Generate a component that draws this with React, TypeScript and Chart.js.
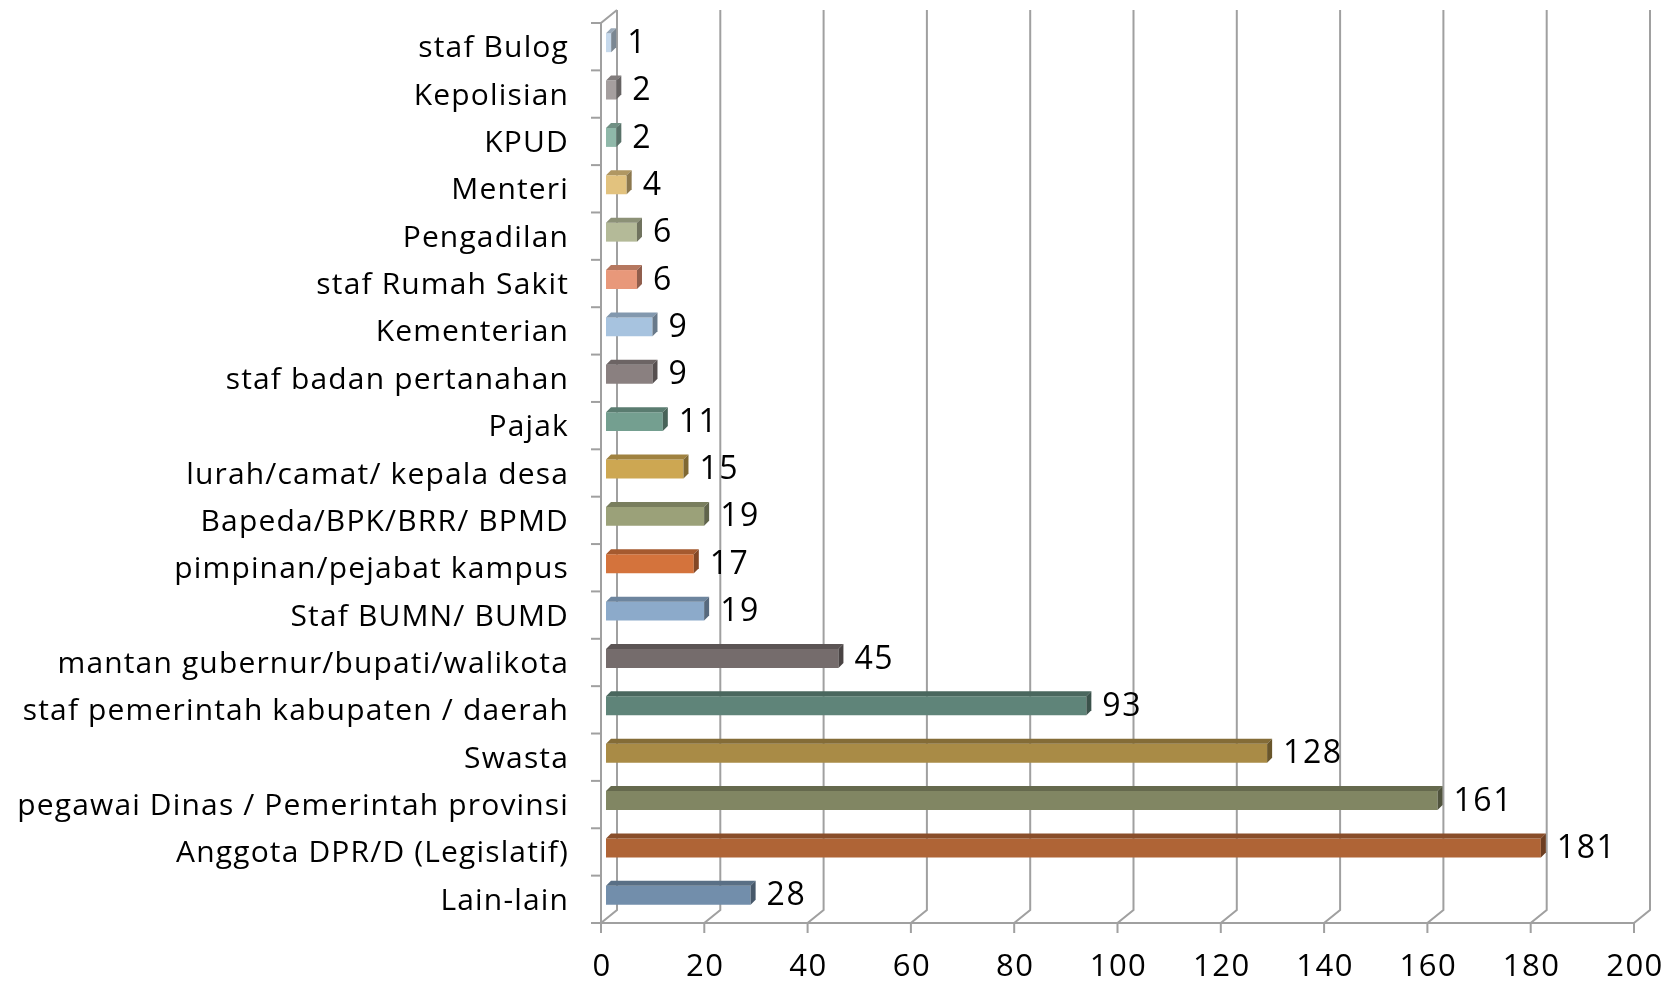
import React, { useEffect, useRef } from "react";
import { Chart, registerables } from "chart.js";

Chart.register(...registerables);

const categories = [
  "staf Bulog",
  "Kepolisian",
  "KPUD",
  "Menteri",
  "Pengadilan",
  "staf Rumah Sakit",
  "Kementerian",
  "staf badan pertanahan",
  "Pajak",
  "lurah/camat/ kepala desa",
  "Bapeda/BPK/BRR/ BPMD",
  "pimpinan/pejabat kampus",
  "Staf BUMN/ BUMD",
  "mantan gubernur/bupati/walikota",
  "staf pemerintah kabupaten / daerah",
  "Swasta",
  "pegawai Dinas / Pemerintah provinsi",
  "Anggota DPR/D (Legislatif)",
  "Lain-lain",
];

const values = [1, 2, 2, 4, 6, 6, 9, 9, 11, 15, 19, 17, 19, 45, 93, 128, 161, 181, 28];

const barColors = [
  "#C6D9EC",
  "#A59F9F",
  "#8FB8A9",
  "#E2C27E",
  "#B4BA98",
  "#E8987A",
  "#A7C3DF",
  "#8A8080",
  "#749F90",
  "#CDA752",
  "#9BA179",
  "#D4733C",
  "#8CAACA",
  "#756C6C",
  "#5F8479",
  "#A98B46",
  "#818663",
  "#AF6436",
  "#728EAB",
];

const xMin = 0;
const xMax = 200;
const xStep = 20;

const FONT = "'Open Sans', 'DejaVu Sans', sans-serif";

function shade(hex: string, f: number): string {
  const n = parseInt(hex.slice(1), 16);
  const r = Math.round(((n >> 16) & 255) * f);
  const g = Math.round(((n >> 8) & 255) * f);
  const b = Math.round((n & 255) * f);
  return `rgb(${r},${g},${b})`;
}

const OX = 5; // bar shift (mid-depth)
const OY = -4;
const D = 5; // bar depth
const WX = 16; // wall depth
const WY = -13;
const GRID = "#A0A0A0";

const threeD = {
  id: "threeD",
  beforeDatasetsDraw(chart: any) {
    const { ctx, chartArea } = chart;
    const xs = chart.scales.x;
    const ys = chart.scales.y;
    const { left, right, top, bottom } = chartArea;
    ctx.save();
    ctx.strokeStyle = GRID;
    ctx.lineWidth = 2;
    ctx.lineCap = "butt";
    // back wall vertical grid lines + floor diagonals + ticks
    xs.ticks.forEach((t: any) => {
      const x = xs.getPixelForValue(t.value);
      ctx.beginPath();
      ctx.moveTo(x + WX, top + WY);
      ctx.lineTo(x + WX, bottom + WY);
      ctx.lineTo(x, bottom);
      ctx.lineTo(x, bottom + 10);
      ctx.stroke();
    });
    // front x axis line
    ctx.beginPath();
    ctx.moveTo(left, bottom);
    ctx.lineTo(right, bottom);
    ctx.stroke();
    // left front axis with top diagonal
    ctx.beginPath();
    ctx.moveTo(left, bottom);
    ctx.lineTo(left, top);
    ctx.lineTo(left + WX, top + WY);
    ctx.stroke();
    // category tick marks
    const n = categories.length;
    const step = (bottom - top) / n;
    for (let k = 0; k <= n; k++) {
      const y = top + k * step;
      ctx.beginPath();
      ctx.moveTo(left - 10, y);
      ctx.lineTo(left, y);
      ctx.stroke();
    }
    // axis labels
    ctx.fillStyle = "#000";
    (ctx as any).letterSpacing = "1.15px";
    ctx.font = `30px ${FONT}`;
    ctx.textAlign = "right";
    ctx.textBaseline = "middle";
    ys.ticks.forEach((t: any, i: number) => {
      const y = ys.getPixelForTick(i);
      ctx.fillText(ys.getLabelForValue(t.value), left - 32, y + 2);
    });
    (ctx as any).letterSpacing = "1.5px";
    ctx.font = `31px ${FONT}`;
    ctx.textAlign = "center";
    xs.ticks.forEach((t: any, i: number) => {
      const x = xs.getPixelForTick(i);
      ctx.fillText(String(t.value), x + 1, bottom + 44);
    });
    ctx.restore();
  },
  beforeDatasetDraw(chart: any) {
    chart.ctx.save();
    chart.ctx.translate(OX, OY);
  },
  afterDatasetDraw(chart: any, args: any) {
    const { ctx } = chart;
    ctx.restore();
    const meta = chart.getDatasetMeta(args.index);
    meta.data.forEach((bar: any, i: number) => {
      const h = bar.height;
      const x0 = bar.base + OX;
      const x1 = bar.x + OX;
      const yT = bar.y - h / 2 + OY;
      const yB = bar.y + h / 2 + OY;
      const c = barColors[i];
      ctx.save();
      ctx.fillStyle = shade(c, 0.78);
      ctx.beginPath();
      ctx.moveTo(x0, yT);
      ctx.lineTo(x0 + D, yT - D);
      ctx.lineTo(x1 + D, yT - D);
      ctx.lineTo(x1, yT);
      ctx.closePath();
      ctx.fill();
      ctx.fillStyle = shade(c, 0.62);
      ctx.beginPath();
      ctx.moveTo(x1, yT);
      ctx.lineTo(x1 + D, yT - D);
      ctx.lineTo(x1 + D, yB - D);
      ctx.lineTo(x1, yB);
      ctx.closePath();
      ctx.fill();
      // value label
      ctx.fillStyle = "#000";
      (ctx as any).letterSpacing = "1.5px";
      ctx.font = `32px ${FONT}`;
      ctx.textAlign = "left";
      ctx.textBaseline = "middle";
      ctx.fillText(String(values[i]), x1 + D + 11, bar.y + OY + 1);
      ctx.restore();
    });
  },
};

export default function App() {
  const ref = useRef<HTMLCanvasElement>(null);
  useEffect(() => {
    if (!ref.current) return;
    const chart = new Chart(ref.current, {
      type: "bar",
      data: {
        labels: categories,
        datasets: [
          {
            data: values,
            backgroundColor: barColors,
            borderWidth: 0,
            categoryPercentage: 1,
            barPercentage: 0.4,
            clip: false as any,
          },
        ],
      },
      options: {
        indexAxis: "y",
        animation: false,
        responsive: false,
        devicePixelRatio: 1,
        layout: { padding: { top: 23, right: 38, left: 0, bottom: 0 } },
        plugins: {
          legend: { display: false },
          tooltip: { enabled: false },
        },
        scales: {
          x: {
            min: xMin,
            max: xMax,
            grid: { display: false, drawTicks: false },
            border: { display: false },
            ticks: { stepSize: xStep, display: false },
            afterFit: (s: any) => {
              s.height = 59;
              s.paddingLeft = 0;
              s.paddingRight = 0;
            },
          },
          y: {
            grid: { display: false, drawTicks: false },
            border: { display: false },
            ticks: { display: false, autoSkip: false },
            afterFit: (s: any) => {
              s.width = 601;
              s.paddingTop = 0;
              s.paddingBottom = 0;
            },
          },
        },
      },
      plugins: [threeD],
    });
    return () => chart.destroy();
  }, []);
  return (
    <div style={{ position: "fixed", left: 0, top: 0, width: 1672, height: 982, background: "#fff" }}>
      <canvas ref={ref} width={1672} height={982} style={{ display: "block" }} />
    </div>
  );
}
